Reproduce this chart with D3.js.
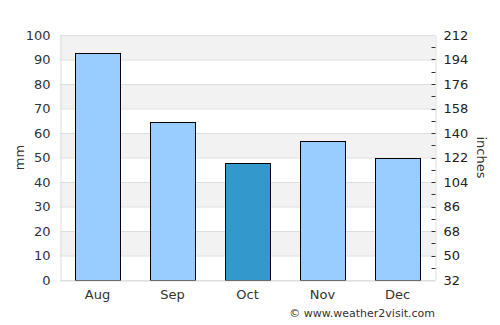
<!DOCTYPE html>
<html>
<head>
<meta charset="utf-8">
<script src="https://cdn.jsdelivr.net/npm/d3@7"></script>
<style>
  body { margin: 0; background: #fff; }
  svg text { font-family: "DejaVu Sans", sans-serif; }
</style>
</head>
<body>
<svg id="chart" width="500" height="325"></svg>
<script>
const months = ["Aug", "Sep", "Oct", "Nov", "Dec"];
const rainfall = [92.5, 64.5, 47.6, 56.6, 49.7];
const highlight = "Oct";
const leftTicks = [0, 10, 20, 30, 40, 50, 60, 70, 80, 90, 100];
const rightTicks = [32, 50, 68, 86, 104, 122, 140, 158, 176, 194, 212];

const svg = d3.select("#chart");
const margin = { top: 35, right: 65, bottom: 45, left: 60 };
const innerWidth = 500 - margin.left - margin.right;
const innerHeight = 325 - margin.top - margin.bottom;

const g = svg.append("g")
  .attr("transform", `translate(${margin.left},${margin.top})`);

const x = d3.scaleBand()
  .domain(months)
  .range([0, innerWidth])
  .paddingInner(0.4)
  .paddingOuter(0.2);

const y = d3.scaleLinear().domain([0, 100]).range([innerHeight, 0]);
const y2 = d3.scaleLinear().domain([32, 212]).range([innerHeight, 0]);

// alternating bands
const bands = d3.range(0, 100, 10);
g.selectAll(".band")
  .data(bands)
  .enter()
  .append("rect")
  .attr("x", 0)
  .attr("width", innerWidth)
  .attr("y", d => y(d + 10))
  .attr("height", d => y(d) - y(d + 10))
  .attr("fill", d => (d / 10) % 2 === 1 ? "#f2f2f2" : "#fff");

// gridlines
g.selectAll(".grid")
  .data(leftTicks)
  .enter()
  .append("line")
  .attr("x1", 0)
  .attr("x2", innerWidth)
  .attr("y1", d => y(d) + 0.5)
  .attr("y2", d => y(d) + 0.5)
  .attr("stroke", "#dddddd");

// bars
g.selectAll(".bar")
  .data(months)
  .enter()
  .append("rect")
  .attr("x", d => Math.round(x(d)) + 0.5)
  .attr("y", (d, i) => Math.round(y(rainfall[i])) + 0.5)
  .attr("width", Math.round(x.bandwidth()))
  .attr("height", (d, i) => innerHeight - Math.round(y(rainfall[i])))
  .attr("fill", d => d === highlight ? "#3399cc" : "#99ccff")
  .attr("stroke", "#000")
  .attr("stroke-width", 1);

// left axis
const yAxis = d3.axisLeft(y).tickValues(leftTicks).tickSize(0).tickPadding(10);
const yAxisG = g.append("g").attr("transform", "translate(0.5,0)").call(yAxis);
yAxisG.select(".domain").attr("stroke", "#dddddd");
yAxisG.selectAll("text").attr("fill", "#333").style("font-size", "13px");

// right axis
const minor = d3.range(41, 212, 18);
const y2Axis = d3.axisRight(y2).tickValues(rightTicks).tickSize(0).tickPadding(8);
const y2AxisG = g.append("g").attr("transform", `translate(${innerWidth + 0.5},0)`).call(y2Axis);
y2AxisG.select(".domain").attr("stroke", "#dddddd");
y2AxisG.selectAll("text").attr("fill", "#222").style("font-size", "13px");
y2AxisG.selectAll(".minor")
  .data(rightTicks.slice(1, -1).concat(minor))
  .enter()
  .append("line")
  .attr("x1", -4)
  .attr("x2", 0)
  .attr("y1", d => Math.round(y2(d)) + 0.5)
  .attr("y2", d => Math.round(y2(d)) + 0.5)
  .attr("stroke", "#333");

// x axis
const xAxis = d3.axisBottom(x).tickSize(0).tickPadding(9);
const xAxisG = g.append("g").attr("transform", `translate(0,${innerHeight + 0.5})`).call(xAxis);
xAxisG.select(".domain").attr("stroke", "#dddddd");
xAxisG.selectAll("text").attr("fill", "#333").style("font-size", "13px");

// axis titles
svg.append("text")
  .attr("transform", `translate(24,${margin.top + innerHeight / 2}) rotate(-90)`)
  .attr("text-anchor", "middle")
  .attr("fill", "#333")
  .style("font-size", "13px")
  .text("mm");

svg.append("text")
  .attr("transform", `translate(477,${margin.top + innerHeight / 2}) rotate(90)`)
  .attr("text-anchor", "middle")
  .attr("fill", "#333")
  .style("font-size", "13px")
  .text("inches");

svg.append("text")
  .attr("x", 435)
  .attr("y", 317)
  .attr("text-anchor", "end")
  .attr("fill", "#333")
  .style("font-size", "11px")
  .text("© www.weather2visit.com");
</script>
</body>
</html>
